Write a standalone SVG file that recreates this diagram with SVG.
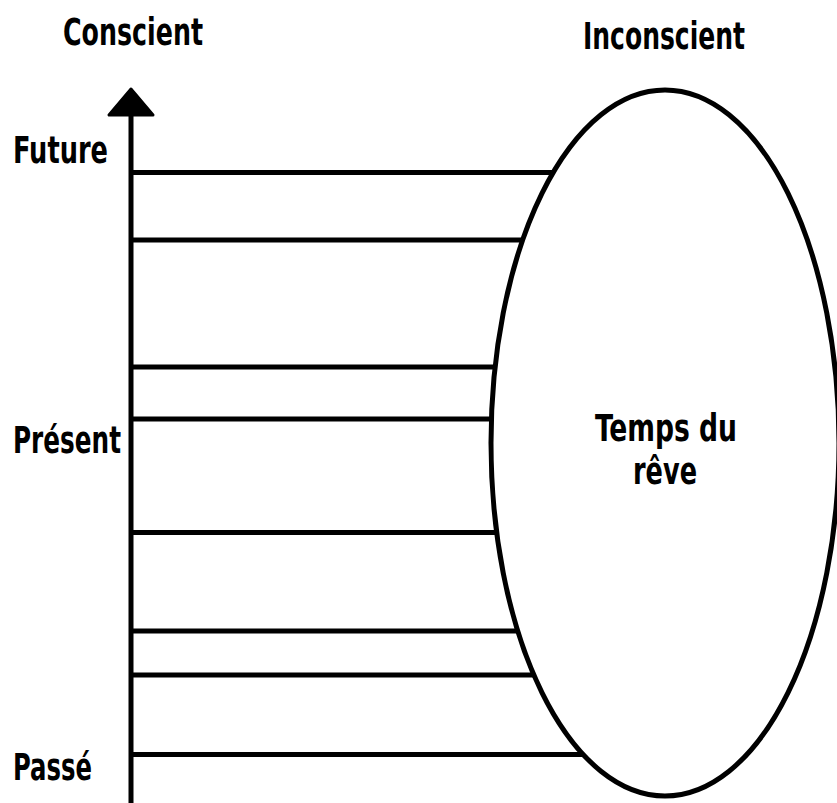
<svg xmlns="http://www.w3.org/2000/svg" width="837" height="803" viewBox="0 0 837 803">
<style>
.t{font-family:"DejaVu Sans Condensed","DejaVu Sans",sans-serif;font-weight:bold;font-size:37px;fill:#000}
.l{stroke:#000;stroke-width:5;fill:none}
</style>
<rect width="837" height="803" fill="#fff"/>
<g id="connectors">
<line class="l" x1="131" y1="112" x2="131" y2="803"/>
<polygon points="131,89 109,115 153,115" fill="#000" stroke="#000" stroke-width="3" stroke-linejoin="round"/>
<line class="l" x1="131" y1="172.5" x2="620" y2="172.5"/>
<line class="l" x1="131" y1="240" x2="620" y2="240"/>
<line class="l" x1="131" y1="367" x2="620" y2="367"/>
<line class="l" x1="131" y1="419" x2="620" y2="419"/>
<line class="l" x1="131" y1="532.5" x2="620" y2="532.5"/>
<line class="l" x1="131" y1="631" x2="620" y2="631"/>
<line class="l" x1="131" y1="675" x2="620" y2="675"/>
<line class="l" x1="131" y1="754.5" x2="620" y2="754.5"/>
</g>
<g id="conscient"><text class="t" x="63" y="45" textLength="140" lengthAdjust="spacingAndGlyphs">Conscient</text></g>
<g id="inconscient"><text class="t" x="583" y="49" textLength="162" lengthAdjust="spacingAndGlyphs">Inconscient</text></g>
<g id="future"><text class="t" x="13" y="163" textLength="95" lengthAdjust="spacingAndGlyphs">Future</text></g>
<g id="present"><text class="t" x="13" y="453" textLength="108" lengthAdjust="spacingAndGlyphs">Présent</text></g>
<g id="passe"><text class="t" x="13" y="780" textLength="79" lengthAdjust="spacingAndGlyphs">Passé</text></g>
<g id="temps-du-reve">
<ellipse cx="665" cy="443" rx="174" ry="353" fill="#fff" stroke="#000" stroke-width="5"/>
<text class="t" x="595" y="441" textLength="142" lengthAdjust="spacingAndGlyphs">Temps du</text>
<text class="t" x="633" y="484" textLength="64" lengthAdjust="spacingAndGlyphs">rêve</text>
</g>
</svg>
